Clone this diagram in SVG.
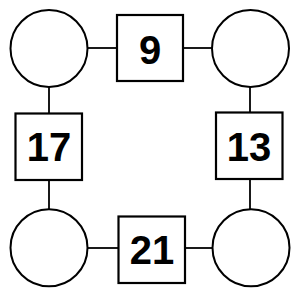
<svg xmlns="http://www.w3.org/2000/svg" width="300" height="300" viewBox="0 0 300 300">
<style>
.c{fill:#fff;stroke:#000;stroke-width:2}
.s{fill:#fff;stroke:#000;stroke-width:2.2}
.l{stroke:#000;stroke-width:1.8;fill:none}
.t{font-family:"Liberation Sans",Arial,sans-serif;font-weight:bold;font-size:40px;text-anchor:middle;fill:#000}
</style>
<rect width="300" height="300" fill="#fff"/>
<g id="connectors">
<line class="l" x1="88" y1="48" x2="117" y2="48"/>
<line class="l" x1="183" y1="48" x2="212" y2="48"/>
<line class="l" x1="49" y1="87" x2="49" y2="113"/>
<line class="l" x1="250" y1="87" x2="250" y2="112"/>
<line class="l" x1="49" y1="180" x2="49" y2="209"/>
<line class="l" x1="250" y1="179" x2="250" y2="209"/>
<line class="l" x1="88" y1="248" x2="118" y2="248"/>
<line class="l" x1="185" y1="248" x2="212" y2="248"/>
</g>
<g id="c1"><circle class="c" cx="49" cy="48.5" r="38.5"/></g>
<g id="c2"><circle class="c" cx="250.5" cy="48.5" r="38.5"/></g>
<g id="c3"><circle class="c" cx="49" cy="247.7" r="38.5"/></g>
<g id="c4"><circle class="c" cx="251" cy="247.7" r="38.5"/></g>
<g id="s9"><rect class="s" x="117" y="15" width="66" height="66"/><text class="t" x="150" y="64">9</text></g>
<g id="s17"><rect class="s" x="15.5" y="113.5" width="66.5" height="66.5"/><text class="t" x="49" y="161">17</text></g>
<g id="s13"><rect class="s" x="216" y="112.5" width="66.5" height="66.5"/><text class="t" x="249" y="161">13</text></g>
<g id="s21"><rect class="s" x="118.5" y="216.5" width="66.5" height="66.5"/><text class="t" x="152" y="264">21</text></g>
</svg>
